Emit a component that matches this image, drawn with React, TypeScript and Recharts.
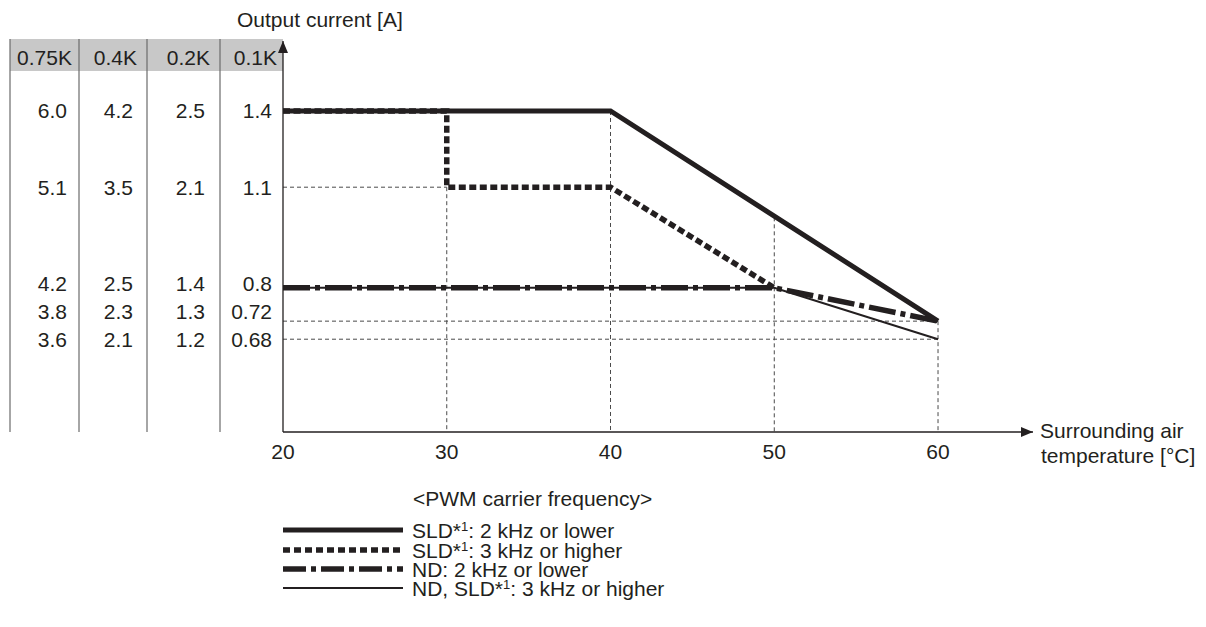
import React from 'react';
import { LineChart, Line, XAxis, YAxis, ReferenceLine, ReferenceDot, Legend } from 'recharts';

// temperature axis ticks [°C]
const TEMP_TICKS = [20, 30, 40, 50, 60];

// rating table at the left (one column per inverter capacity)
const CAPACITIES = ['0.75K', '0.4K', '0.2K', '0.1K'];
const CURRENT_075K = ['6.0', '5.1', '4.2', '3.8', '3.6'];
const CURRENT_04K = ['4.2', '3.5', '2.5', '2.3', '2.1'];
const CURRENT_02K = ['2.5', '2.1', '1.4', '1.3', '1.2'];
const CURRENT_01K = [1.4, 1.1, 0.8, 0.72, 0.68];

// derating curves, 0.1K output current [A] vs surrounding air temperature
const sld2k = [
  { t: 20, a: 1.4 },
  { t: 40, a: 1.4 },
  { t: 60, a: 0.72 },
];
const sld3k = [
  { t: 20, a: 1.4 },
  { t: 30, a: 1.4 },
  { t: 30, a: 1.1 },
  { t: 40, a: 1.1 },
  { t: 50, a: 0.8 },
];
const nd2k = [
  { t: 20, a: 0.8 },
  { t: 50, a: 0.8 },
  { t: 60, a: 0.72 },
];
const nd3k = [
  { t: 20, a: 0.8 },
  { t: 50, a: 0.8 },
  { t: 60, a: 0.68 },
];

// thin dotted guide lines
const GUIDES_H = [
  { a: 1.1, from: 20, to: 30 },
  { a: 0.72, from: 20, to: 60 },
  { a: 0.68, from: 20, to: 60 },
];
const GUIDES_V = [
  { t: 30, from: 1.1 },
  { t: 40, from: 1.4 },
  { t: 50, from: 1.0 },
  { t: 60, from: 0.72 },
];

const LEGEND_TITLE = '<PWM carrier frequency>';
const LEGEND_LABELS = [
  'SLD*1: 2 kHz or lower',
  'SLD*1: 3 kHz or higher',
  'ND: 2 kHz or lower',
  'ND, SLD*1: 3 kHz or higher',
];

const X_MAX = 65.8;
const Y_MIN = 0.507;
const Y_MAX = 1.747;
const PLOT_TOP = 41;
const PLOT_H = 391;

const INK = '#231f20';
const GUIDE = '#4a4a4a';
const FONT = '"Liberation Sans", Arial, Helvetica, sans-serif';
const FS = 21;

const STYLES = [
  { width: 5, dash: undefined as string | undefined },
  { width: 5.5, dash: '7 3.5' },
  { width: 5.5, dash: '27 5 5 5' },
  { width: 2, dash: undefined as string | undefined },
];
const LEGEND_DASH = [undefined, '7 4', '23 5 5 5', undefined];

const COL_RIGHT = [67, 133, 205, 272];
const HEAD_RIGHT = [72, 137, 210, 277];
const COL_LINES = [10, 79, 147, 220];
const ROW_GAP = 28;

const pxPerLn = PLOT_H / Math.log(Y_MAX / Y_MIN);

// "*1" is drawn as an asterisk with a superscript 1
function withSup(label: string) {
  const parts = label.split('*1');
  const out: React.ReactNode[] = [];
  parts.forEach((p, i) => {
    if (i === 0) {
      out.push(<tspan key={'p' + i}>{p + (parts.length > 1 ? '*' : '')}</tspan>);
    } else {
      out.push(
        <tspan key={'s' + i} fontSize={13} dy={-7}>
          1
        </tspan>
      );
      out.push(
        <tspan key={'p' + i} dy={7}>
          {p + (i < parts.length - 1 ? '*' : '')}
        </tspan>
      );
    }
  });
  return out;
}

const YTick = (props: any) => {
  const { y, payload } = props;
  const idx = CURRENT_01K.indexOf(payload.value);
  if (idx < 0) return null;
  // keep the label rows from crowding each other
  const pix = CURRENT_01K.map((v) => y + pxPerLn * Math.log(payload.value / v));
  const pos = [...pix];
  for (let i = pos.length - 2; i >= 0; i--) {
    pos[i] = Math.min(pix[i], pos[i + 1] - ROW_GAP);
  }
  const ly = pos[idx] + 7.5;
  const cols = [CURRENT_075K[idx], CURRENT_04K[idx], CURRENT_02K[idx], String(CURRENT_01K[idx])];
  return (
    <g>
      {cols.map((c, i) => (
        <text key={i} x={COL_RIGHT[i]} y={ly} textAnchor="end" fill={INK} fontSize={FS} fontFamily={FONT}>
          {c}
        </text>
      ))}
    </g>
  );
};

const XTick = (props: any) => {
  const { x, payload } = props;
  return (
    <text x={x} y={459} textAnchor="middle" fill={INK} fontSize={FS} fontFamily={FONT}>
      {payload.value}
    </text>
  );
};

const LegendBox = () => (
  <svg width={700} height={140} style={{ display: 'block' }}>
    <text x={413} y={25.5} fill={INK} fontSize={FS} fontFamily={FONT}>
      {LEGEND_TITLE}
    </text>
    {LEGEND_LABELS.map((label, i) => {
      const cy = [50, 70, 89, 108][i];
      return (
        <g key={label}>
          <line
            x1={283}
            x2={403}
            y1={cy}
            y2={cy}
            stroke={INK}
            strokeWidth={STYLES[i].width}
            strokeDasharray={LEGEND_DASH[i]}
          />
          <text x={412} y={cy + 7.5} fill={INK} fontSize={FS} fontFamily={FONT}>
            {withSup(label)}
          </text>
        </g>
      );
    })}
  </svg>
);

const upArrow = (p: any) => (
  <polygon points={`${p.cx},${p.cy} ${p.cx - 5},${p.cy + 12} ${p.cx + 5},${p.cy + 12}`} fill={INK} />
);
const rightArrow = (p: any) => (
  <polygon points={`${p.cx},${p.cy} ${p.cx - 12},${p.cy - 5} ${p.cx - 12},${p.cy + 5}`} fill={INK} />
);

export default function App() {
  const series = [nd3k, nd2k, sld3k, sld2k];
  const styleIdx = [3, 2, 1, 0];
  return (
    <div style={{ position: 'absolute', left: 0, top: 0, background: '#fff' }}>
      <LineChart width={1206} height={627} margin={{ top: PLOT_TOP, right: 173, left: 10, bottom: 165 }}>
        {/* rating table frame */}
        <g>
          <rect x={10} y={39} width={273} height={32} fill="#c8c8c8" />
          {COL_LINES.map((x) => (
            <line key={x} x1={x} x2={x} y1={39} y2={432} stroke="#6b6b6b" strokeWidth={1.2} />
          ))}
          {CAPACITIES.map((c, i) => (
            <text key={c} x={HEAD_RIGHT[i]} y={65} textAnchor="end" fill={INK} fontSize={FS} fontFamily={FONT}>
              {c}
            </text>
          ))}
          <text x={237} y={26.5} fill={INK} fontSize={FS} fontFamily={FONT}>
            Output current [A]
          </text>
          <text x={1040} y={438} fill={INK} fontSize={FS} fontFamily={FONT}>
            Surrounding air
          </text>
          <text x={1041} y={463} fill={INK} fontSize={FS} fontFamily={FONT}>
            temperature [°C]
          </text>
        </g>
        <XAxis
          dataKey="t"
          type="number"
          domain={[20, X_MAX]}
          ticks={TEMP_TICKS}
          interval={0}
          allowDataOverflow
          tickLine={false}
          axisLine={{ stroke: INK, strokeWidth: 1.3 }}
          tick={<XTick />}
          height={30}
        />
        <YAxis
          dataKey="a"
          type="number"
          scale="log"
          domain={[Y_MIN, Y_MAX]}
          ticks={CURRENT_01K}
          interval={0}
          allowDataOverflow
          tickLine={false}
          axisLine={{ stroke: INK, strokeWidth: 1.3 }}
          tick={<YTick />}
          width={273}
        />
        {GUIDES_H.map((g) => (
          <ReferenceLine
            key={'h' + g.a}
            segment={[
              { x: g.from, y: g.a },
              { x: g.to, y: g.a },
            ]}
            stroke={GUIDE}
            strokeWidth={1}
            strokeDasharray="4 3"
          />
        ))}
        {GUIDES_V.map((g) => (
          <ReferenceLine
            key={'v' + g.t}
            segment={[
              { x: g.t, y: g.from },
              { x: g.t, y: Y_MIN },
            ]}
            stroke={GUIDE}
            strokeWidth={1}
            strokeDasharray="4 3"
          />
        ))}
        {series.map((d, i) => (
          <Line
            key={i}
            data={d}
            dataKey="a"
            type="linear"
            stroke={INK}
            strokeWidth={STYLES[styleIdx[i]].width}
            strokeDasharray={STYLES[styleIdx[i]].dash}
            strokeLinejoin="miter"
            dot={false}
            activeDot={false}
            isAnimationActive={false}
          />
        ))}
        <ReferenceDot x={20} y={Y_MAX} r={0} shape={upArrow} ifOverflow="visible" />
        <ReferenceDot x={X_MAX} y={Y_MIN} r={0} shape={rightArrow} ifOverflow="visible" />
        <Legend
          layout="horizontal"
          verticalAlign="middle"
          align="center"
          wrapperStyle={{ left: 0, top: 480, width: 700, height: 140 }}
          content={() => <LegendBox />}
        />
      </LineChart>
    </div>
  );
}
